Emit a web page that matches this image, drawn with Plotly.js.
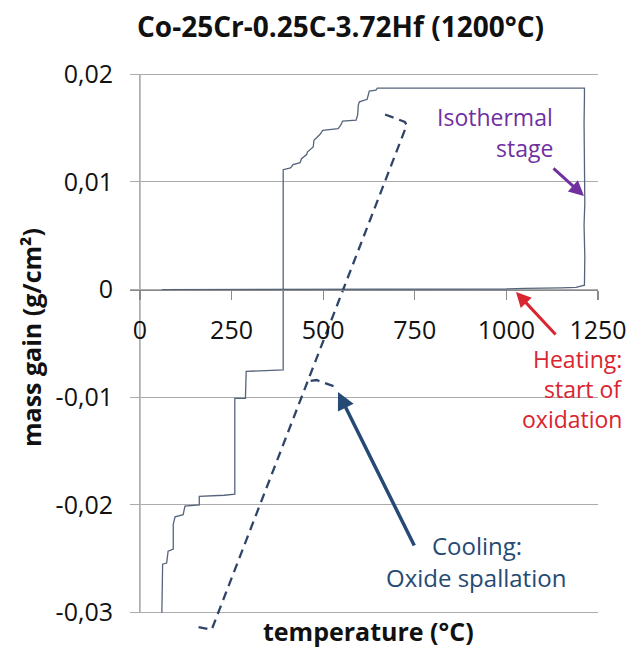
<!DOCTYPE html>
<html>
<head>
<meta charset="utf-8">
<script src="https://cdn.plot.ly/plotly-3.0.1.min.js"></script>
<style>html,body{margin:0;padding:0;background:#fff;}#chart{width:631px;height:649px;}</style>
</head>
<body>
<div id="chart"></div>
<script>
// ---- data ----
const heatT    = [60, 100, 150, 200, 250, 300, 400, 500, 600, 700, 800, 900, 1000, 1050, 1100, 1150, 1190, 1205, 1213];
const heatMass = [0, 0, 0, 0, 0, 0, 0, 0, 0, 0, 0, 0, 0.00005, 0.0001, 0.0001, 0.00015, 0.0002, 0.0003, 0.0004];

const isoT    = [1213, 1214, 1212, 1214, 1213, 1214, 1212, 1213, 1213];
const isoMass = [0.0004, 0.003, 0.006, 0.008, 0.0105, 0.013, 0.0155, 0.0178, 0.0187];

const coolT    = [1213, 648, 644, 626, 624, 620, 599, 596, 594, 590, 553, 548, 541, 499, 491, 475, 473, 457, 455, 441, 437, 418, 411, 391, 391, 290, 288, 259, 259, 230, 162, 162, 123, 118, 96, 91, 91, 77, 73, 62, 60];
const coolMass = [0.0187, 0.0187, 0.01851, 0.01842, 0.01805, 0.01767, 0.01743, 0.01712, 0.01619, 0.01572, 0.01563, 0.01526, 0.01494, 0.01479, 0.01439, 0.01386, 0.01324, 0.01277, 0.01253, 0.01215, 0.01178, 0.0116, 0.01129, 0.01113, -0.00747, -0.0076, -0.0101, -0.0101, -0.0190, -0.0191, -0.0192, -0.0200, -0.0201, -0.0209, -0.0211, -0.0218, -0.0241, -0.0243, -0.0254, -0.0255, -0.0300];

const dashT    = [669, 723, 728, 196, 144];
const dashMass = [0.01625, 0.01557, 0.01526, -0.03157, -0.03126];
const spurT    = [466, 482, 532];
const spurMass = [-0.00849, -0.0084, -0.00902];

const xTicks = [0, 250, 500, 750, 1000, 1250];
const yTicks = [0.02, 0.01, 0, -0.01, -0.02, -0.03];
const yTickText = ['0,02', '0,01', '0', '-0,01', '-0,02', '-0,03'];

// ---- styling ----
const FONT = 'Open Sans, Lato, sans-serif';
const solidColor = '#56647B';
const dashColor = '#2F4468';
const W = 631, H = 649, ML = 130, MR = 33, MT = 72, MB = 17;
const PW = W - ML - MR, PH = H - MT - MB;
const yRange = [-0.0318, 0.0202];
const xRange = [-27, 1250];
const px = x => (x - ML) / PW;
const py = y => (H - MB - y) / PH;

const traces = [
  {x: heatT.concat(isoT, coolT), y: heatMass.concat(isoMass, coolMass), mode: 'lines',
   line: {color: solidColor, width: 1.3}, hoverinfo: 'skip'},
  {x: dashT, y: dashMass, mode: 'lines', line: {color: dashColor, width: 2.3, dash: '9px,6px'}, hoverinfo: 'skip'},
  {x: spurT, y: spurMass, mode: 'lines', line: {color: dashColor, width: 2.3, dash: '9px,6px'}, hoverinfo: 'skip'}
];

function txt(text, x, y, color, xanchor, size, bold) {
  return {text: text, xref: 'paper', yref: 'paper', x: px(x), y: py(y), xanchor: xanchor, yanchor: 'middle',
          showarrow: false, font: {family: FONT, size: size, color: color, weight: bold ? 'bold' : 'normal'}};
}
function arrow(hx, hy, tx, ty, color, w) {
  return {text: '', xref: 'paper', yref: 'paper', x: px(hx), y: py(hy), ax: tx - hx, ay: ty - hy,
          showarrow: true, arrowhead: 2, arrowsize: 1, arrowwidth: w, arrowcolor: color, standoff: 0, startstandoff: 0};
}

const purple = '#7030A0', red = '#D9252F', blue = '#254A74';
const annotations = [
  txt('Isothermal', 555, 117, purple, 'right', 23),
  txt('stage', 555, 148, purple, 'right', 23),
  txt('Heating:', 624, 359, red, 'right', 23),
  txt('start of', 624, 389, red, 'right', 23),
  txt('oxidation', 624, 419, red, 'right', 23),
  txt('Cooling:', 477, 545, blue, 'center', 24),
  txt('Oxide spallation', 476, 577, blue, 'center', 24),
  txt('temperature (°C)', 368, 631, '#111', 'center', 25, true),
  Object.assign(txt('mass gain (g/cm²)', 31, 338, '#111', 'center', 25, true), {textangle: -90}),
  arrow(584, 196, 552, 167, purple, 3),
  arrow(516, 292, 557, 336, red, 3),
  arrow(338, 392, 415, 547, blue, 3.5)
];

const layout = {
  width: W, height: H,
  margin: {l: ML, r: MR, t: MT, b: MB},
  paper_bgcolor: '#fff', plot_bgcolor: '#fff',
  showlegend: false,
  title: {text: 'Co-25Cr-0.25C-3.72Hf (1200°C)', xref: 'container', yref: 'container',
          x: 340.5 / W, y: 1 - 27 / H, xanchor: 'center', yanchor: 'middle',
          font: {family: FONT, size: 28, color: '#111', weight: 'bold'}},
  xaxis: {range: xRange, anchor: 'free', position: (0 - yRange[0]) / (yRange[1] - yRange[0]),
          tickvals: xTicks, ticktext: xTicks.map(String), ticks: 'outside', ticklen: 9, tickwidth: 1.2,
          tickcolor: '#8a8a8a', showline: true, linecolor: '#8a8a8a', linewidth: 1.5,
          showgrid: false, zeroline: false, ticklabelstandoff: 9,
          tickfont: {family: FONT, size: 25, color: '#111'}},
  yaxis: {range: yRange, tickvals: yTicks, ticktext: yTickText, showgrid: true, gridcolor: '#ababab',
          gridwidth: 1, zeroline: false, showline: false, ticks: '', ticklabelstandoff: 16,
          tickfont: {family: FONT, size: 25, color: '#111'}},
  shapes: [{type: 'line', xref: 'x', yref: 'y', x0: 0, x1: 0, y0: -0.03, y1: 0.02,
            line: {color: '#8a8a8a', width: 1.2}, layer: 'below'}],
  annotations: annotations
};

Plotly.newPlot('chart', traces, layout, {displayModeBar: false, staticPlot: true});
</script>
</body>
</html>
